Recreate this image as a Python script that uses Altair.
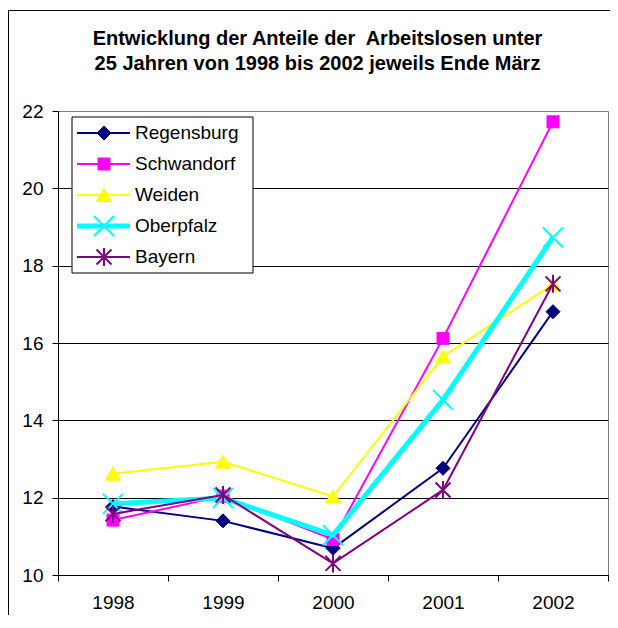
import altair as alt
import pandas as pd

# ---- data ----
years = ["1998", "1999", "2000", "2001", "2002"]
series_names = ["Regensburg", "Schwandorf", "Weiden", "Oberpfalz", "Bayern"]
regensburg = [11.77, 11.40, 10.69, 12.76, 16.81]
schwandorf = [11.42, 12.04, 10.92, 16.12, 21.72]
weiden = [12.62, 12.93, 12.03, 15.65, 17.52]
oberpfalz = [11.84, 11.99, 11.03, 14.53, 18.73]
bayern = [11.58, 12.07, 10.30, 12.20, 17.53]
series_values = [regensburg, schwandorf, weiden, oberpfalz, bayern]
y_ticks = [10, 12, 14, 16, 18, 20, 22]
title_lines = ["Entwicklung der Anteile der\u00a0 Arbeitslosen unter",
               "25 Jahren von 1998 bis 2002 jeweils Ende März"]

# ---- styles ----
colors = ["#000080", "#FF00FF", "#FFFF00", "#00FFFF", "#800080"]
shapes = ["diamond", "square", "triangle-up",
          "M-1,-1L1,1M-1,1L1,-1",
          "M-1,-1L1,1M-1,1L1,-1M0,-1.2L0,1.2"]
sizes = [196, 144, 225, 400, 225]
filled = [True, True, True, False, False]
line_widths = [2, 2, 2, 5, 2]
FONT = "Liberation Sans"
FS = 19

rows = []
for name, vals in zip(series_names, series_values):
    for yr, v in zip(years, vals):
        rows.append({"series": name, "year": yr, "value": v})
df = pd.DataFrame(rows)
legend_df = pd.DataFrame({"series": series_names})
one = pd.DataFrame({"k": [0]})

x_enc = alt.X("year:O", bandPosition=0.5,
              scale=alt.Scale(type="band", domain=years, paddingInner=0, paddingOuter=0),
              axis=alt.Axis(title=None, labelAngle=0, tickBand="extent", grid=False,
                            tickSize=6, labelPadding=12, labelFontSize=FS, labelFont=FONT,
                            labelColor="black", domainColor="black", tickColor="black"))
y_enc = alt.Y("value:Q",
              scale=alt.Scale(domain=[10, 22], nice=False, zero=False),
              axis=alt.Axis(title=None, values=y_ticks, grid=True,
                            gridColor={"condition": {"test": "datum.value === 22", "value": "#808080"},
                                       "value": "#000000"},
                            gridWidth=1, tickSize=6, labelPadding=9, labelFontSize=FS,
                            labelFont=FONT, labelColor="black",
                            domainColor="black", tickColor="black"))

main_layers = []
for i, name in enumerate(series_names):
    base = alt.Chart(df).transform_filter(alt.datum.series == name)
    main_layers.append(base.mark_line(color=colors[i], strokeWidth=line_widths[i],
                                      strokeJoin="round").encode(x=x_enc, y=y_enc))
    if filled[i]:
        pt = base.mark_point(shape=shapes[i], size=sizes[i], filled=True, fill=colors[i],
                             stroke=colors[i], strokeWidth=1, opacity=1)
    else:
        pt = base.mark_point(shape=shapes[i], size=sizes[i], filled=False,
                             stroke=colors[i], strokeWidth=2, opacity=1)
    main_layers.append(pt.encode(x=x_enc, y=y_enc))
main = alt.layer(*main_layers)

leg_y = alt.Y("series:N", scale=alt.Scale(type="point", domain=series_names,
                                           range=[22, 146], padding=0), axis=None)
leg_layers = [alt.Chart(one).mark_rect(fill="white", stroke="black", strokeWidth=1).encode(
    x=alt.value(14), x2=alt.value(195), y=alt.value(6), y2=alt.value(162))]
for i, name in enumerate(series_names):
    lb = alt.Chart(legend_df).transform_filter(alt.datum.series == name)
    leg_layers.append(lb.mark_rule(color=colors[i], strokeWidth=line_widths[i]).encode(
        x=alt.value(19), x2=alt.value(72), y=leg_y))
    if filled[i]:
        lp = lb.mark_point(shape=shapes[i], size=sizes[i], filled=True, fill=colors[i],
                           stroke=colors[i], strokeWidth=1, opacity=1)
    else:
        lp = lb.mark_point(shape=shapes[i], size=sizes[i], filled=False,
                           stroke=colors[i], strokeWidth=2, opacity=1)
    leg_layers.append(lp.encode(x=alt.value(46), y=leg_y))
leg_layers.append(alt.Chart(legend_df).mark_text(align="left", baseline="middle", fontSize=FS,
                                                  font=FONT, color="black").encode(
    x=alt.value(77), y=leg_y, text="series:N"))
legend = alt.layer(*leg_layers)

frame = alt.Chart(one).mark_rect(fillOpacity=0, stroke="black", strokeWidth=1).encode(
    x=alt.value(-49.5), x2=alt.value(700), y=alt.value(-100.5), y2=alt.value(700))

title = alt.Chart(one).mark_text(text=title_lines, font=FONT, fontSize=20, fontWeight="bold",
                                 lineHeight=24.5, align="center", baseline="alphabetic",
                                 color="black").encode(x=alt.value(259.5), y=alt.value(-66))

chart = alt.layer(frame, title, main, legend).resolve_scale(y="independent").properties(
    width=550, height=464, autosize="none",
    padding={"left": 50, "top": 103, "right": 2, "bottom": 40}
).configure_view(stroke="#808080", strokeWidth=1)

chart.save("out.html", embed_options={"renderer": "svg", "actions": False})
